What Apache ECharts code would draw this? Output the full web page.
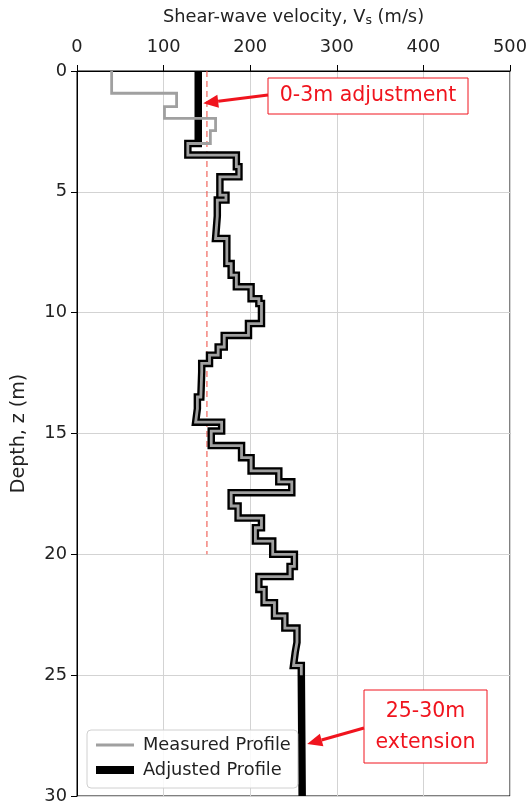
<!DOCTYPE html>
<html>
<head>
<meta charset="utf-8">
<script src="https://cdn.jsdelivr.net/npm/echarts@6/dist/echarts.min.js"></script>
<style>
html,body{margin:0;padding:0;background:#fff;}
#chart{width:530px;height:805px;}
</style>
</head>
<body>
<div id="chart"></div>
<script>
// Layer boundaries (m) and shear-wave velocities (m/s)
const measuredDepths = [0, 0.92, 1.47, 1.96, 2.47, 3.0, 3.48, 3.96, 4.38, 5.14, 5.34, 6.0, 6.93, 7.97, 8.45, 8.93, 9.42, 9.62, 10.45, 10.94, 11.42, 11.76, 12.1, 12.45, 13.49, 13.97, 14.53, 14.9, 15.5, 16.0, 16.55, 17.0, 17.45, 18.0, 18.5, 18.9, 19.45, 20.0, 20.5, 20.92, 21.45, 22.0, 22.55, 23.05, 23.64, 24.05, 24.6, 25.0];
const measuredVs = [40, 115, 101, 160, 154, 128, 184, 187, 165, 172, 162, 160, 173, 178, 184, 201, 210, 213, 198, 170, 163, 153, 144, 143, 139, 137, 167, 155, 190, 201, 233, 248, 178, 186, 213, 206, 226, 251, 246, 210, 216, 228, 240, 254, 252, 250, 259];

const adjustedDepths = [0, 3.0, 3.48, 3.96, 4.38, 5.14, 5.34, 6.0, 6.93, 7.97, 8.45, 8.93, 9.42, 9.62, 10.45, 10.94, 11.42, 11.76, 12.1, 12.45, 13.49, 13.97, 14.53, 14.9, 15.5, 16.0, 16.55, 17.0, 17.45, 18.0, 18.5, 18.9, 19.45, 20.0, 20.5, 20.92, 21.45, 22.0, 22.55, 23.05, 23.64, 24.05, 24.6, 25.0, 30.0];
const adjustedVs = [140, 128, 184, 187, 165, 172, 162, 160, 173, 178, 184, 201, 210, 213, 198, 170, 163, 153, 144, 143, 139, 137, 167, 155, 190, 201, 233, 248, 178, 186, 213, 206, 226, 251, 246, 210, 216, 228, 240, 254, 252, 250, 259, 260];

const refVs = 150;          // reference dashed line
const refDepthRange = [0, 20];

const xTicks = [0, 100, 200, 300, 400, 500];
const yTicks = [0, 5, 10, 15, 20, 25, 30];

function stepPath(depths, vs) {
  const pts = [];
  for (let i = 0; i < vs.length; i++) {
    pts.push([vs[i], depths[i]]);
    pts.push([vs[i], depths[i + 1]]);
  }
  return pts;
}

const FONT = 'DejaVu Sans';
const FS = 17.8;
const chart = echarts.init(document.getElementById('chart'), null, {renderer: 'canvas'});

const option = {
  animation: false,
  backgroundColor: '#fff',
  textStyle: {fontFamily: FONT},
  grid: {left: 77, right: 15, top: 71, bottom: 8, show: true, borderColor: '#000', borderWidth: 1, backgroundColor: 'transparent'},
  xAxis: {
    type: 'value', position: 'top', min: xTicks[0], max: xTicks[xTicks.length - 1], interval: 100,
    name: 'Shear-wave velocity, V{sub|s} (m/s)',
    nameLocation: 'middle', nameGap: 44,
    nameTextStyle: {fontFamily: FONT, fontSize: FS, color: '#222',
      rich: {sub: {fontFamily: FONT, fontSize: 12.5, color: '#222', verticalAlign: 'bottom', padding: [6, 0, 0, 0]}}},
    axisLine: {show: true, lineStyle: {color: '#000', width: 1}},
    axisTick: {show: true, inside: false, length: 6, lineStyle: {color: '#000'}},
    axisLabel: {fontFamily: FONT, fontSize: FS, color: '#222', margin: 15},
    splitLine: {show: true, lineStyle: {color: '#d3d3d3', width: 1}}
  },
  yAxis: {
    type: 'value', inverse: true, min: yTicks[0], max: yTicks[yTicks.length - 1], interval: 5,
    name: 'Depth, z (m)', nameLocation: 'middle', nameGap: 48, nameRotate: 90,
    nameTextStyle: {fontFamily: FONT, fontSize: 19, color: '#222'},
    axisLine: {show: true, lineStyle: {color: '#000', width: 1}},
    axisTick: {show: true, inside: false, length: 6, lineStyle: {color: '#000'}},
    axisLabel: {fontFamily: FONT, fontSize: FS, color: '#222', margin: 10},
    splitLine: {show: true, lineStyle: {color: '#d3d3d3', width: 1}}
  },
  legend: {
    orient: 'vertical', left: 87, top: 730,
    padding: [6, 7, 9, 5], itemGap: 7, itemWidth: 38, itemHeight: 18,
    backgroundColor: 'rgba(255,255,255,0.85)', borderColor: '#d0d0d0', borderWidth: 1, borderRadius: 4,
    textStyle: {fontFamily: FONT, fontSize: FS, color: '#222', padding: [0, 0, 0, 4]},
    data: [
      {name: 'Measured Profile', itemStyle: {opacity: 0}, lineStyle: {width: 2.8, color: '#a0a0a0'}},
      {name: 'Adjusted Profile', itemStyle: {opacity: 0}, lineStyle: {width: 8, color: '#000'}}
    ]
  },
  series: [
    {
      name: 'Adjusted Profile', type: 'line', data: stepPath(adjustedDepths, adjustedVs),
      symbol: 'none', z: 3,
      lineStyle: {color: '#000', width: 7.5, join: 'miter', cap: 'butt'}, itemStyle: {color: '#000'}
    },
    {
      name: 'Measured Profile', type: 'line', data: stepPath(measuredDepths, measuredVs),
      symbol: 'none', z: 4,
      lineStyle: {color: '#a0a0a0', width: 2.8, join: 'miter', cap: 'butt'}, itemStyle: {color: '#a0a0a0'}
    },
    {
      name: 'ref', type: 'line', data: [[refVs, refDepthRange[0]], [refVs, refDepthRange[1]]],
      symbol: 'none', z: 2, silent: true,
      lineStyle: {color: 'rgba(240,80,70,0.7)', width: 1.5, type: [6, 4]}
    }
  ]
};
chart.setOption(option);

// annotations
function arrow(from, to) {
  const dx = to[0] - from[0], dy = to[1] - from[1];
  const len = Math.sqrt(dx * dx + dy * dy);
  const ux = dx / len, uy = dy / len;
  const hl = 15, hw = 6.5;
  const base = [to[0] - ux * hl, to[1] - uy * hl];
  return [
    {type: 'line', shape: {x1: from[0], y1: from[1], x2: base[0], y2: base[1]}, style: {stroke: '#f0141e', lineWidth: 3}, z: 100},
    {type: 'polygon', shape: {points: [to, [base[0] - uy * hw, base[1] + ux * hw], [base[0] + uy * hw, base[1] - ux * hw]]}, style: {fill: '#f0141e'}, z: 100}
  ];
}
const tip1 = chart.convertToPixel({gridIndex: 0}, [adjustedVs[0], 1.33]);
const tip2 = chart.convertToPixel({gridIndex: 0}, [adjustedVs[adjustedVs.length - 1], 27.85]);
tip1[0] += 5; tip2[0] += 5;

const BOXFONT = '20.5px "DejaVu Sans"';
const graphics = [
  {type: 'rect', shape: {x: 268, y: 78, width: 200, height: 36}, style: {fill: '#fff', stroke: '#f0141e', lineWidth: 1}, z: 100},
  {type: 'text', x: 368, y: 96, style: {text: '0-3m adjustment', fill: '#f0141e', font: BOXFONT, align: 'center', verticalAlign: 'middle'}, z: 101},
  {type: 'rect', shape: {x: 364, y: 690, width: 123, height: 73}, style: {fill: '#fff', stroke: '#f0141e', lineWidth: 1}, z: 100},
  {type: 'text', x: 425.5, y: 712, style: {text: '25-30m', fill: '#f0141e', font: BOXFONT, align: 'center', verticalAlign: 'middle'}, z: 101},
  {type: 'text', x: 425.5, y: 743, style: {text: 'extension', fill: '#f0141e', font: BOXFONT, align: 'center', verticalAlign: 'middle'}, z: 101}
].concat(arrow([268, 95], tip1)).concat(arrow([364, 728], tip2));

chart.setOption({graphic: {elements: graphics}});
</script>
</body>
</html>
